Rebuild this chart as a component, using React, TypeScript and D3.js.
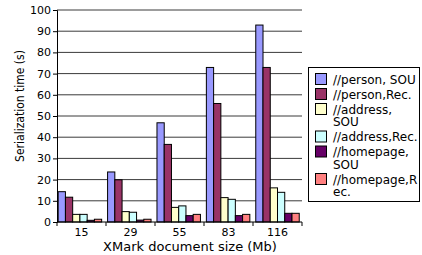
import React, { useRef, useEffect } from 'react';
import * as d3 from 'd3';

const SIZES = ['15', '29', '55', '83', '116'];
const SERIES = [
  '//person, SOU',
  '//person,Rec.',
  '//address, SOU',
  '//address,Rec.',
  '//homepage, SOU',
  '//homepage,Rec.',
];
// legend wraps the way the original does
const LEGEND_LINES = [
  ['//person, SOU'],
  ['//person,Rec.'],
  ['//address,', 'SOU'],
  ['//address,Rec.'],
  ['//homepage,', 'SOU'],
  ['//homepage,R', 'ec.'],
];
const COLORS = ['#9999ff', '#993366', '#ffffcc', '#ccffff', '#660066', '#ff8080'];

const personSou = [14.3, 23.6, 46.8, 72.9, 92.9];
const personRec = [11.7, 19.9, 36.6, 55.9, 72.9];
const addressSou = [3.6, 4.9, 6.9, 11.5, 16.1];
const addressRec = [3.6, 4.6, 7.6, 10.7, 14.0];
const homepageSou = [0.8, 0.9, 3.0, 3.0, 4.1];
const homepageRec = [1.3, 1.3, 3.6, 3.6, 4.1];
const VALUES = [personSou, personRec, addressSou, addressRec, homepageSou, homepageRec];

const Y_TICKS = [0, 10, 20, 30, 40, 50, 60, 70, 80, 90, 100];

const width = 422;
const height = 255;
const marginLeft = 57;
const plotRight = 302;
const marginTop = 10;
const zeroY = 222;
const font = 'DejaVu Sans, Verdana, sans-serif';

const x0 = d3.scaleBand()
  .domain(SIZES)
  .range([marginLeft, plotRight])
  .paddingInner(0.12)
  .paddingOuter(0.04)
  .align(0.3);

const x1 = d3.scaleBand()
  .domain(SERIES)
  .range([0, x0.bandwidth()]);

const y = d3.scaleLinear()
  .domain([0, 100])
  .range([zeroY, marginTop]);

function drawChart(g) {
  const root = d3.select(g);
  root.selectAll('*').remove();

  // gridlines
  root.append('g')
    .selectAll('line')
    .data(Y_TICKS.slice(1))
    .join('line')
    .attr('x1', marginLeft)
    .attr('x2', plotRight)
    .attr('y1', d => y(d))
    .attr('y2', d => y(d))
    .attr('stroke', '#3a3a3a')
    .attr('stroke-width', 1);

  // y axis
  const yAxis = root.append('g')
    .attr('transform', `translate(${marginLeft},0)`)
    .call(d3.axisLeft(y).tickValues(Y_TICKS).tickSize(4).tickPadding(2));
  yAxis.select('.domain').attr('stroke', '#000');
  yAxis.selectAll('text')
    .attr('font-family', font)
    .attr('font-size', 11)
    .attr('fill', '#000');

  // bars
  root.append('g')
    .selectAll('g')
    .data(SIZES)
    .join('g')
    .attr('transform', d => `translate(${x0(d)},0)`)
    .selectAll('rect')
    .data((d, i) => SERIES.map((s, k) => ({ s, v: VALUES[k][i], c: COLORS[k] })))
    .join('rect')
    .attr('x', d => x1(d.s))
    .attr('y', d => y(d.v))
    .attr('width', x1.bandwidth())
    .attr('height', d => zeroY - y(d.v))
    .attr('fill', d => d.c)
    .attr('stroke', '#000')
    .attr('stroke-width', 1);

  // x axis: ticks at category boundaries
  const step = (plotRight - marginLeft) / SIZES.length;
  root.append('g')
    .selectAll('line')
    .data(d3.range(SIZES.length + 1))
    .join('line')
    .attr('x1', i => marginLeft + i * step)
    .attr('x2', i => marginLeft + i * step)
    .attr('y1', zeroY)
    .attr('y2', zeroY + 4)
    .attr('stroke', '#000');
  root.append('line')
    .attr('x1', marginLeft)
    .attr('x2', plotRight)
    .attr('y1', zeroY)
    .attr('y2', zeroY)
    .attr('stroke', '#000');
  root.append('g')
    .selectAll('text')
    .data(SIZES)
    .join('text')
    .attr('x', (d, i) => marginLeft + (i + 0.5) * step)
    .attr('y', 236)
    .attr('text-anchor', 'middle')
    .attr('font-family', font)
    .attr('font-size', 11)
    .text(d => d);

  // axis titles
  root.append('text')
    .attr('x', 190)
    .attr('y', 251)
    .attr('text-anchor', 'middle')
    .attr('font-family', font)
    .attr('font-size', 13)
    .text('XMark document size (Mb)');

  root.append('text')
    .attr('transform', 'rotate(-90)')
    .attr('x', -106)
    .attr('y', 24)
    .attr('text-anchor', 'middle')
    .attr('font-family', 'DejaVu Sans Condensed, DejaVu Sans, sans-serif')
    .attr('font-stretch', 'condensed')
    .attr('font-size', 12)
    .text('Serialization time (s)');

  // legend
  const legend = root.append('g');
  legend.append('rect')
    .attr('x', 308.5)
    .attr('y', 67.5)
    .attr('width', 111)
    .attr('height', 134)
    .attr('fill', '#fff')
    .attr('stroke', '#000');

  let rowY = 80;
  LEGEND_LINES.forEach((lines, k) => {
    legend.append('rect')
      .attr('x', 315.5)
      .attr('y', rowY - 6.5)
      .attr('width', 11)
      .attr('height', 11)
      .attr('fill', COLORS[k])
      .attr('stroke', '#000');
    lines.forEach((line, j) => {
      legend.append('text')
        .attr('x', 333)
        .attr('y', rowY + j * 12.5)
        .attr('dominant-baseline', 'middle')
        .attr('font-family', font)
        .attr('font-size', 12)
        .text(line);
    });
    rowY += lines.length * 12.5 + 2.5;
  });
}

const App = () => {
  const chartRef = useRef(null);

  useEffect(() => {
    if (chartRef.current) {
      drawChart(chartRef.current);
    }
  }, [chartRef]);

  return (
    <svg
      width={width}
      height={height}
      style={{ position: 'absolute', left: 0, top: 0, background: '#fff' }}
    >
      <g ref={chartRef}></g>
    </svg>
  );
};

export default App;
